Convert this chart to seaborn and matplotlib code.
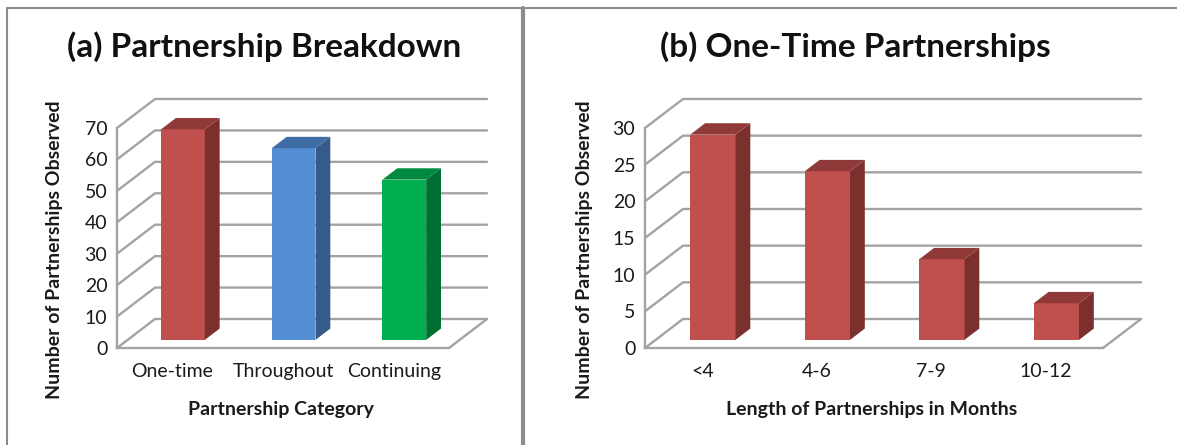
import matplotlib
matplotlib.use("Agg")
import matplotlib.pyplot as plt
import seaborn as sns
from matplotlib.lines import Line2D
from matplotlib.patches import Polygon

# ── Data ──────────────────────────────────────────────────────────────────────
categories_a = ["One-time", "Throughout", "Continuing"]
counts_a = [67, 61, 51]
yticks_a = [0, 10, 20, 30, 40, 50, 60, 70]
colors_a = ["#C0504D", "#558ED5", "#00B050"]
sides_a = ["#7C302E", "#365B88", "#006F32"]
tops_a = ["#8F3A38", "#3F6CA3", "#008A3E"]

categories_b = ["<4", "4-6", "7-9", "10-12"]
counts_b = [28, 23, 11, 5]
yticks_b = [0, 5, 10, 15, 20, 25, 30]
colors_b = ["#C0504D"] * 4
sides_b = ["#7C302E"] * 4
tops_b = ["#8F3A38"] * 4

GRID = "#A3A3A3"
TEXT = "#1A1A1A"
W, H = 1177, 445
DEPTH_X, DEPTH_Y = 38, 29       # back wall offset in pixels


def draw_panel(box, title, title_x, xlabel, ylabel_x, cats, counts, yticks, colors, sides, tops):
    """One fake-3D column chart. box = left, right, top, bottom of the axis in pixels."""
    left, right, top, bottom = box
    ax = fig.add_axes([left / W, 1 - bottom / H, (right - left) / W, (bottom - top) / H])

    sns.barplot(x=cats, y=counts, hue=cats, palette=colors, dodge=False, width=0.395,
                saturation=1, legend=False, linewidth=0, ax=ax, zorder=3)
    n = len(cats)
    ymax = yticks[-1]
    ax.set_xlim(-0.5, n - 0.5)
    ax.set_ylim(0, ymax)

    # pixels -> data units
    dx = DEPTH_X / ((right - left) / n)
    dy = DEPTH_Y / ((bottom - top) / ymax)

    # back wall, side wall and floor
    for v in yticks:
        ax.plot([-0.5, -0.5 + dx, n - 0.5 + dx], [v, v + dy, v + dy], color=GRID, lw=1.7,
                clip_on=False, zorder=1, solid_joinstyle="miter")
    ax.plot([n - 0.5, n - 0.5 + dx], [0, dy], color=GRID, lw=1.7, clip_on=False, zorder=1)

    # push bars back onto the floor, add side and top faces
    for patch, side, cap in zip(ax.patches, sides, tops):
        x0 = patch.get_x() + 0.28 * dx
        x1 = x0 + patch.get_width()
        y0 = 0.28 * dy
        y1 = y0 + patch.get_height()
        ox, oy = 0.39 * dx, 0.39 * dy
        patch.set_x(x0)
        patch.set_y(y0)
        patch.set_clip_on(False)
        ax.add_patch(Polygon([(x1, y0), (x1 + ox, y0 + oy), (x1 + ox, y1 + oy), (x1, y1)],
                             facecolor=side, edgecolor="none", clip_on=False, zorder=3))
        ax.add_patch(Polygon([(x0, y1), (x1, y1), (x1 + ox, y1 + oy), (x0 + ox, y1 + oy)],
                             facecolor=cap, edgecolor="none", clip_on=False, zorder=3))

    # axes
    for name in ["top", "right"]:
        ax.spines[name].set_visible(False)
    for name in ["left", "bottom"]:
        ax.spines[name].set_color(GRID)
        ax.spines[name].set_linewidth(1.7)
    ax.set_yticks(yticks)
    ax.tick_params(axis="y", length=5, width=1.2, color=GRID, labelsize=14,
                   labelcolor=TEXT, pad=2)
    ax.set_xticks([i - 0.5 for i in range(n + 1)])
    ax.set_xticklabels([])
    ax.set_xticks(range(n), cats, minor=True)
    ax.tick_params(axis="x", which="major", length=4, width=1.2, color=GRID)
    ax.tick_params(axis="x", which="minor", length=0, labelsize=14, labelcolor=TEXT, pad=11)

    ax.set_xlabel(xlabel, fontweight="bold", fontsize=14, color=TEXT)
    ax.xaxis.set_label_coords(0.495, (bottom - 409) / (bottom - top), transform=ax.transAxes)
    ax.xaxis.label.set_verticalalignment("center")
    ax.set_ylabel("Number of Partnerships Observed", fontweight="bold", fontsize=14, color=TEXT)
    ax.yaxis.set_label_coords((ylabel_x - left) / (right - left), (bottom - 250) / (bottom - top))
    ax.yaxis.label.set_verticalalignment("center")
    ax.patch.set_visible(False)

    fig.text(title_x / W, 1 - 47 / H, title, ha="center", va="center",
             fontsize=24, fontweight="bold", color="#111111")
    return ax


sns.set_theme(style="white")
plt.rcParams["font.family"] = ["Lato", "DejaVu Sans"]

fig = plt.figure(figsize=(W / 100, H / 100), dpi=100)

draw_panel((117, 449, 128, 348), "(a) Partnership Breakdown", 264, "Partnership Category", 55,
           categories_a, counts_a, yticks_a, colors_a, sides_a, tops_a)
draw_panel((645, 1103, 128, 348), "(b) One-Time Partnerships", 855, "Length of Partnerships in Months", 584,
           categories_b, counts_b, yticks_b, colors_b, sides_b, tops_b)

# panel frame from the original slide
frame = "#8C8C8C"
fig.add_artist(Line2D([7 / W, 1], [1 - 8 / H, 1 - 8 / H], color=frame, lw=1.5))
fig.add_artist(Line2D([7 / W, 7 / W], [0, 1 - 8 / H], color=frame, lw=1.5))
fig.add_artist(Line2D([522.5 / W, 522.5 / W], [0, 1 - 8 / H], color=frame, lw=3))

fig.savefig("out.png", dpi=100)
